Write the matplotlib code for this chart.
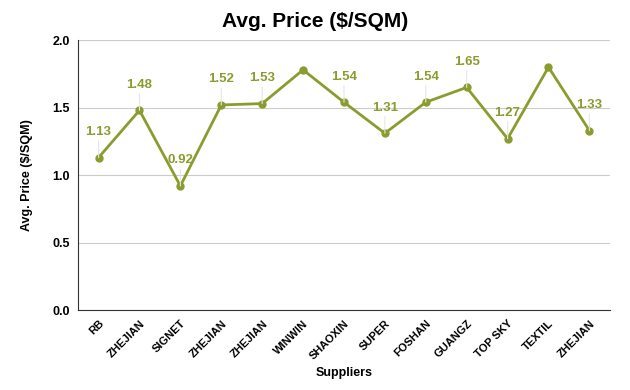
import matplotlib

matplotlib.use("Agg")
import matplotlib.pyplot as plt

suppliers = ["RB", "ZHEJIAN", "SIGNET", "ZHEJIAN", "ZHEJIAN", "WINWIN", "SHAOXIN",
             "SUPER", "FOSHAN", "GUANGZ", "TOP SKY", "TEXTIL", "ZHEJIAN"]
avg_price = [1.13, 1.48, 0.92, 1.52, 1.53, 1.78, 1.54, 1.31, 1.54, 1.65, 1.27, 1.80, 1.33]
# Which points carry a value label in the original chart
labelled = [True, True, True, True, True, False, True, True, True, True, True, False, True]

OLIVE = "#8b9c2e"
FONT = "Liberation Sans"

fig = plt.figure(figsize=(6.3, 3.9), dpi=100)
ax = fig.add_axes([0.124, 0.205, 0.844, 0.692])

x = list(range(len(suppliers)))
ax.plot(x, avg_price, color=OLIVE, lw=2, marker="o", ms=5, zorder=3)

for xi, yi, show in zip(x, avg_price, labelled):
    if not show:
        continue
    ax.annotate(f"{yi:.2f}", (xi, yi), xytext=(0, 14), textcoords="offset points",
                ha="center", va="bottom", color=OLIVE, fontsize=9.5,
                fontweight="bold", family=FONT,
                arrowprops=dict(arrowstyle="-", color="#e6e6e6", lw=0.8,
                                shrinkA=0, shrinkB=0))

ax.set_xlim(-0.5, len(suppliers) - 0.5)
ax.set_ylim(0, 2.0)
ax.set_yticks([0, 0.5, 1.0, 1.5, 2.0])
ax.set_yticklabels(["0.0", "0.5", "1.0", "1.5", "2.0"], fontsize=9, fontweight="bold",
                   family=FONT)
ax.set_xticks(x)
ax.set_xticklabels(suppliers, rotation=45, ha="right", rotation_mode="anchor",
                   fontsize=8, fontweight="bold", family=FONT)
ax.tick_params(length=0, pad=6)
ax.grid(axis="y", color="#cccccc", lw=0.8)
ax.set_axisbelow(True)
for side in ("top", "right"):
    ax.spines[side].set_visible(False)
ax.spines["left"].set_color("#333333")
ax.spines["bottom"].set_color("#333333")

ax.set_xlabel("Suppliers", fontsize=9, fontweight="bold", family=FONT, labelpad=4)
ax.set_ylabel("Avg. Price ($/SQM)", fontsize=9, fontweight="bold", family=FONT,
              labelpad=14)
fig.suptitle("Avg. Price ($/SQM)", x=0.5, y=0.968, fontsize=15, fontweight="bold",
             family=FONT)

fig.savefig("out.png", dpi=100)
